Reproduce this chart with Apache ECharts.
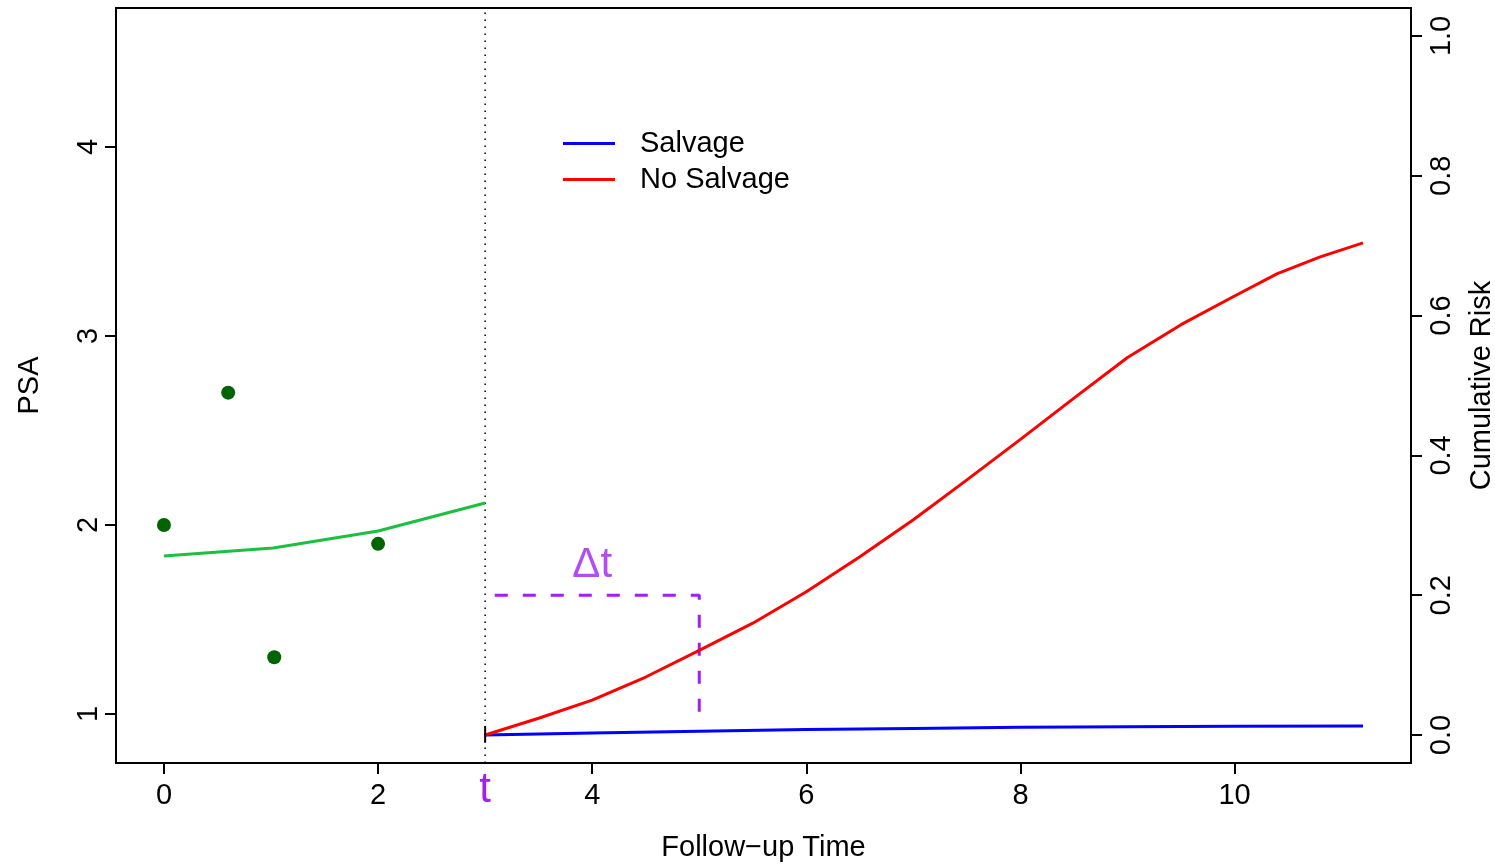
<!DOCTYPE html>
<html>
<head>
<meta charset="utf-8">
<script src="https://cdn.jsdelivr.net/npm/echarts@6/dist/echarts.min.js"></script>
<style>html,body{margin:0;padding:0;background:#fff}#c{width:1495px;height:865px}</style>
</head>
<body>
<div id="c"></div>
<script>
// Observed PSA measurements
const obsTime = [0, 0.6, 1.03, 2.0];
const obsPSA  = [2.0, 2.7, 1.3, 1.9];
// Fitted PSA trajectory
const fitTime = [0, 1.02, 2.0, 3.0];
const fitPSA  = [1.836, 1.878, 1.968, 2.116];
// Cumulative risk curves (right axis)
const riskTime = [3, 3.5, 4, 4.5, 5, 5.5, 6, 6.5, 7, 7.5, 8, 8.5, 9, 9.5, 10, 10.4, 10.8, 11.2];
const riskNoSalvage = [0, 0.024, 0.050, 0.083, 0.121, 0.160, 0.205, 0.255, 0.308, 0.365, 0.423, 0.482, 0.540, 0.587, 0.628, 0.660, 0.684, 0.704];
const salvageTime = [3, 4, 5, 6, 7, 8, 9, 10, 11.2];
const riskSalvage = [0, 0.003, 0.0055, 0.008, 0.0095, 0.011, 0.012, 0.0125, 0.013];
// Landmark and horizon
const landmarkT = 3;
const horizonT = 5;
const horizonRisk = 0.2;
const horizonStart = 3.09;
const horizonBottom = 0.027;
// Tick values
const xTicks = [0, 2, 4, 6, 8, 10];
const psaTicks = [1, 2, 3, 4];
const riskTicks = [0, 0.2, 0.4, 0.6, 0.8, 1.0];

const FONT = 'Liberation Sans, Arial, Helvetica, sans-serif';
const PURPLE = '#A020F0';
const FS = 29;
const zip = (a, b) => a.map((v, i) => [v, b[i]]);

const chart = echarts.init(document.getElementById('c'));
chart.setOption({
  animation: false,
  backgroundColor: '#fff',
  textStyle: { fontFamily: FONT },
  grid: { left: 116, right: 84, top: 8, bottom: 102, show: true, borderColor: '#000', borderWidth: 2,
          backgroundColor: 'transparent', outerBoundsMode: 'none', containLabel: false },
  legend: {
    left: 563, top: 129, orient: 'vertical', padding: 0, itemGap: 7,
    itemWidth: 52, itemHeight: 3, icon: 'rect',
    textStyle: { fontSize: FS, color: '#000', fontFamily: FONT, padding: [0, 0, 0, 20], lineHeight: 29 },
    data: ['Salvage', 'No Salvage']
  },
  xAxis: {
    type: 'value', min: -0.448, max: 11.648,
    name: 'Follow\u2212up Time', nameLocation: 'middle', nameGap: 70,
    nameTextStyle: { fontSize: FS, color: '#000', fontFamily: FONT },
    axisLine: { show: true, onZero: false, lineStyle: { color: '#000', width: 2 } },
    axisTick: { show: true, length: 11, lineStyle: { color: '#000', width: 2 }, customValues: xTicks },
    axisLabel: {
      fontSize: FS, color: '#000', margin: 18, fontFamily: FONT,
      customValues: xTicks.concat([landmarkT]).sort((a, b) => a - b),
      formatter: v => v === landmarkT ? '{t|t}' : String(v),
      rich: { t: { fontSize: 42, lineHeight: 18, color: PURPLE, fontFamily: FONT } }
    },
    splitLine: { show: false }
  },
  yAxis: [{
    type: 'value', min: 0.7407, max: 4.735, position: 'left',
    name: 'PSA', nameLocation: 'middle', nameGap: 72, nameRotate: 90,
    nameTextStyle: { fontSize: FS, color: '#000', fontFamily: FONT },
    axisLine: { show: true, onZero: false, lineStyle: { color: '#000', width: 2 } },
    axisTick: { show: true, length: 11, lineStyle: { color: '#000', width: 2 }, customValues: psaTicks },
    axisLabel: { fontSize: FS, color: '#000', rotate: 90, margin: 13, customValues: psaTicks, fontFamily: FONT },
    splitLine: { show: false }
  }, {
    type: 'value', min: -0.04, max: 1.04, position: 'right',
    name: 'Cumulative Risk', nameLocation: 'middle', nameGap: 56, nameRotate: 90,
    nameTextStyle: { fontSize: FS, color: '#000', fontFamily: FONT },
    axisLine: { show: true, onZero: false, lineStyle: { color: '#000', width: 2 } },
    axisTick: { show: true, length: 11, lineStyle: { color: '#000', width: 2 }, customValues: riskTicks },
    axisLabel: { fontSize: FS, color: '#000', rotate: 90, margin: 16, customValues: riskTicks, fontFamily: FONT,
      formatter: v => v.toFixed(1) },
    splitLine: { show: false }
  }],
  series: [
    {
      name: 'landmark', type: 'line', yAxisIndex: 1, symbol: 'none', silent: true,
      data: [[landmarkT, -0.04], [landmarkT, 1.04]],
      lineStyle: { color: '#000', width: 1.5, type: [1.5, 5.5] }
    },
    {
      name: 'fit', type: 'line', yAxisIndex: 0, symbol: 'none',
      data: zip(fitTime, fitPSA),
      lineStyle: { color: '#1CBF3F', width: 3 }
    },
    {
      name: 'obs', type: 'scatter', yAxisIndex: 0, symbolSize: 14,
      data: zip(obsTime, obsPSA),
      itemStyle: { color: '#006400', opacity: 1 }
    },
    {
      name: 'horizon', type: 'line', yAxisIndex: 1, symbol: 'none',
      data: [[horizonStart, horizonRisk], [horizonT, horizonRisk], [horizonT, horizonBottom]],
      lineStyle: { color: PURPLE, width: 3, type: [13, 15] }
    },
    {
      name: 'Salvage', type: 'line', yAxisIndex: 1, symbol: 'none',
      data: zip(salvageTime, riskSalvage),
      color: '#0000FF', lineStyle: { color: '#0000FF', width: 3 }
    },
    {
      name: 'No Salvage', type: 'line', yAxisIndex: 1, symbol: 'none', smooth: false,
      data: zip(riskTime, riskNoSalvage),
      color: '#FF0000', lineStyle: { color: '#FF0000', width: 3, join: 'round' }
    },
    {
      name: 'start', type: 'line', yAxisIndex: 1, symbol: 'none',
      data: [[landmarkT, -0.011], [landmarkT, 0.013]],
      lineStyle: { color: '#000', width: 2 }
    },
    {
      name: 'dt', type: 'scatter', yAxisIndex: 1, symbolSize: 0, silent: true,
      data: [[4.0, 0.243]],
      label: { show: true, position: 'inside', formatter: '\u0394t', fontSize: 42, color: PURPLE, fontFamily: FONT }
    }
  ]
});
</script>
</body>
</html>
